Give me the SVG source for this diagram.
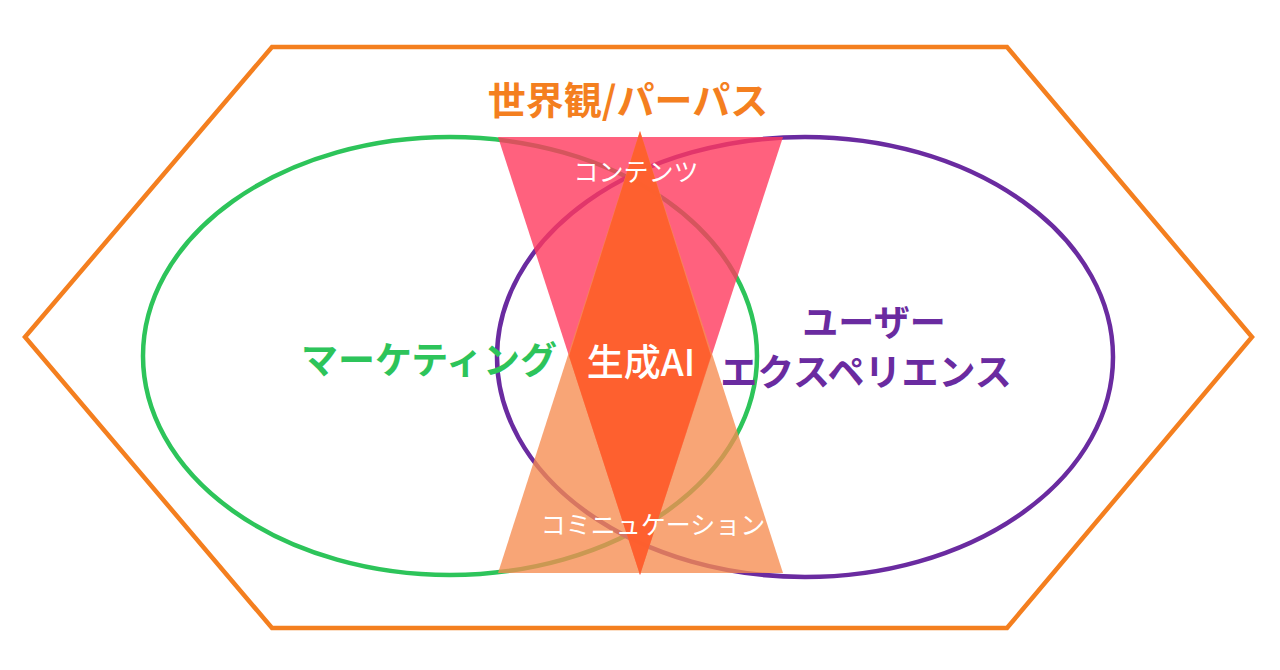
<svg xmlns="http://www.w3.org/2000/svg" width="1280" height="670" viewBox="0 0 1280 670">
<style>
.t{font-family:"Noto Sans CJK JP","Noto Sans",sans-serif;text-anchor:middle}
.b{font-weight:bold}
</style>
<rect width="1280" height="670" fill="#fff"/>
<g id="hexagon">
<polygon points="272,47 1007,47 1252,337 1007,628 272,628 25,337" fill="none" stroke="#F47F1F" stroke-width="4.5" stroke-linejoin="miter"/>
<text class="t b" x="628" y="114" font-size="38" fill="#F47F1F">世界観/パーパス</text>
</g>
<g id="marketing">
<ellipse cx="450" cy="356" rx="307" ry="219" fill="none" stroke="#2DC45A" stroke-width="4.5"/>
</g>
<g id="ux">
<ellipse cx="805" cy="357" rx="308" ry="220" fill="none" stroke="#6A2BA0" stroke-width="4.5"/>
</g>
<g id="content">
<polygon points="498,137 783,137 640,575" fill="#FF3A5E" fill-opacity="0.8"/>
</g>
<g id="communication">
<polygon points="498,573 783,573 640,131" fill="#F68C50" fill-opacity="0.78"/>
</g>
<g id="genai">
<polygon points="640,131 711,356 640,575 569,356" fill="#FF5A28" fill-opacity="0.85"/>
</g>
<g id="labels">
<text class="t" x="636" y="181" font-size="25" fill="#fff">コンテンツ</text>
<text class="t" x="653" y="534" font-size="25" fill="#fff">コミニュケーション</text>
<text class="t b" x="429" y="374" font-size="37" fill="#2DC45A">マーケティング</text>
<text class="t" x="641" y="376" font-size="37" font-weight="500" fill="#fff">生成AI</text>
<text class="t b" x="874" y="336" font-size="36" fill="#6A2BA0">ユーザー</text>
<text class="t b" x="866" y="386" font-size="37" fill="#6A2BA0">エクスペリエンス</text>
</g>
<g id="connectors"></g>
</svg>
